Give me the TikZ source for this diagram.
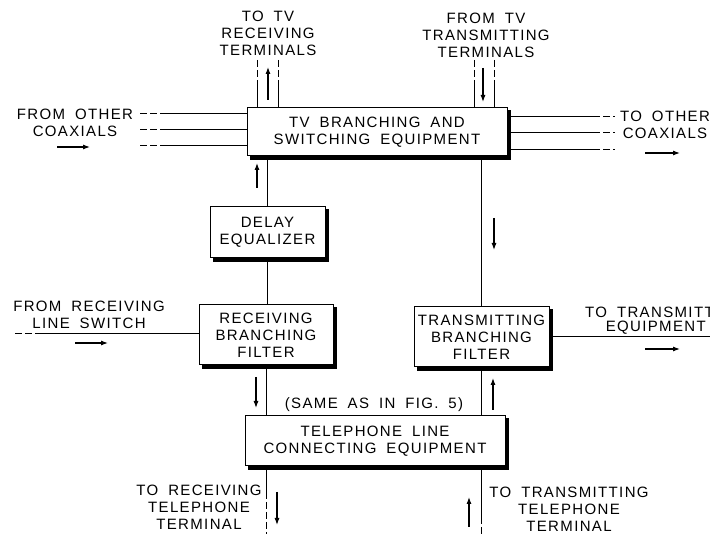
\documentclass[tikz,border=0pt]{standalone}
\usepackage{fontspec}
\setmainfont{Liberation Sans}[LetterSpace=9,WordSpace=1.8]
\usetikzlibrary{arrows.meta}
\newcommand\fs{\fontsize{15}{17}\selectfont}
\tikzset{
 blk/.style={draw, line width=1pt, fill=white, align=center, font=\fs, inner sep=0pt},
 lbl/.style={align=center, font=\fs, inner sep=0pt},
 wire/.style={line width=1pt},
 dsh/.style={line width=1pt, dash pattern=on 7pt off 3pt},
 flow/.style={line width=1.1pt, -{Latex[length=7pt,width=5pt]}},
}
\begin{document}
\begin{tikzpicture}[x=1pt,y=-1pt]
\fill[white] (0,0) rectangle (710,534);
\useasboundingbox (0,0) rectangle (710,534);
% boxes
\node[blk, minimum width=260pt, minimum height=48pt] (tv) at (377,132) {TV BRANCHING AND\\SWITCHING EQUIPMENT};
\node[blk, minimum width=115pt, minimum height=51pt] (dly) at (267.5,232.5) {DELAY\\EQUALIZER};
\node[blk, minimum width=134pt, minimum height=60pt] (rbf) at (266,335) {RECEIVING\\BRANCHING\\FILTER};
\node[blk, minimum width=135pt, minimum height=60pt] (tbf) at (481.5,337) {TRANSMITTING\\BRANCHING\\FILTER};
\node[blk, minimum width=260pt, minimum height=50pt] (tel) at (375,441) {TELEPHONE LINE\\CONNECTING EQUIPMENT};
% thick shadow edges on right and bottom of each box
\foreach \bx in {tv,dly,rbf,tbf,tel} {
  \fill[black] ([yshift=-3pt]\bx.north east) rectangle ([xshift=3.5pt,yshift=-3.5pt]\bx.south east);
  \fill[black] ([xshift=3pt]\bx.south west) rectangle ([xshift=3.5pt,yshift=-3.5pt]\bx.south east);
}
% connectors between boxes
\draw[wire] (dly.north) -- (dly.north |- tv.south);
\draw[wire] (dly.south) -- (dly.south |- rbf.north);
\draw[wire] (tbf.north) -- (tbf.north |- tv.south);
\draw[wire] (rbf.south) -- (rbf.south |- tel.north);
\draw[wire] (tbf.south) -- (tbf.south |- tel.north);
% left coaxials
\foreach \y [count=\i] in {114,130,146} {
  \coordinate (ci\i) at (162,\y); \coordinate (cid\i) at (140,\y);
  \draw[wire] (ci\i) -- (ci\i -| tv.west);
  \draw[dsh] (cid\i) -- (ci\i);
}
% right coaxials
\foreach \y [count=\i] in {117,133,150} {
  \coordinate (co\i) at (593,\y); \coordinate (cod\i) at (615,\y);
  \draw[wire] (co\i -| tv.east) -- (co\i);
  \draw[dsh] (co\i) -- (cod\i);
}
% top verticals
\foreach \xx/\ys [count=\i] in {257/82,278/82,474/80,494/80} {
  \coordinate (tl\i) at (\xx,\ys); \coordinate (tld\i) at (\xx,60);
  \draw[wire] (tl\i) -- (tl\i |- tv.north);
  \draw[dsh] (tld\i) -- (tl\i);
}
% receiving line in
\coordinate (ri) at (42,334); \coordinate (rid) at (15,334);
\draw[wire] (ri) -- (ri -| rbf.west);
\draw[dsh] (rid) -- (ri);
% transmit out
\coordinate (to) at (710,337);
\draw[wire] (to -| tbf.east) -- (to);
% bottom verticals
\coordinate (br) at (266,492); \coordinate (brd) at (266,534);
\draw[wire] (br |- tel.south) -- (br);
\draw[dsh] (br) -- (brd);
\coordinate (bt) at (481.5,517); \coordinate (btd) at (481.5,534);
\draw[wire] (bt |- tel.south) -- (bt);
\draw[dsh] (bt) -- (btd);
% flow arrows
\coordinate (a1s) at (268,100); \coordinate (a1e) at (268,67); \draw[flow] (a1s) -- (a1e);
\coordinate (a2s) at (483,68); \coordinate (a2e) at (483,102); \draw[flow] (a2s) -- (a2e);
\coordinate (a3s) at (57,147); \coordinate (a3e) at (90,147); \draw[flow] (a3s) -- (a3e);
\coordinate (a4s) at (645,153); \coordinate (a4e) at (680,153); \draw[flow] (a4s) -- (a4e);
\coordinate (a5s) at (257,188); \coordinate (a5e) at (257,163); \draw[flow] (a5s) -- (a5e);
\coordinate (a6s) at (494,218); \coordinate (a6e) at (494,250); \draw[flow] (a6s) -- (a6e);
\coordinate (a7s) at (75,343); \coordinate (a7e) at (108,343); \draw[flow] (a7s) -- (a7e);
\coordinate (a8s) at (645,349); \coordinate (a8e) at (680,349); \draw[flow] (a8s) -- (a8e);
\coordinate (a9s) at (256,377); \coordinate (a9e) at (256,408); \draw[flow] (a9s) -- (a9e);
\coordinate (a10s) at (493,410); \coordinate (a10e) at (493,378); \draw[flow] (a10s) -- (a10e);
\coordinate (a11s) at (277,492); \coordinate (a11e) at (277,525); \draw[flow] (a11s) -- (a11e);
\coordinate (a12s) at (469,527); \coordinate (a12e) at (469,497); \draw[flow] (a12s) -- (a12e);
% labels
\node[lbl] (ltvrx) at (268,33) {TO TV\\RECEIVING\\TERMINALS};
\node[lbl] (ltvtx) at (486,35) {FROM TV\\TRANSMITTING\\TERMINALS};
\node[lbl] (lcin) at (75,123) {FROM OTHER\\COAXIALS};
\node[lbl] (lcout) at (665,125) {TO OTHER\\COAXIALS};
\node[lbl] (lrin) at (89,315) {FROM RECEIVING\\LINE SWITCH};
\node[lbl, anchor=west] (ltout1) at (585,312) {TO TRANSMITT};
\node[lbl, anchor=east] (ltout2) at (706,328) {EQUIPMENT};
\node[lbl] (lsame) at (374,405) {(SAME AS IN FIG. 5)};
\node[lbl] (lrxt) at (199,507) {TO RECEIVING\\TELEPHONE\\TERMINAL};
\node[lbl] (ltxt) at (569,509) {TO TRANSMITTING\\TELEPHONE\\TERMINAL};
\end{tikzpicture}
\end{document}
